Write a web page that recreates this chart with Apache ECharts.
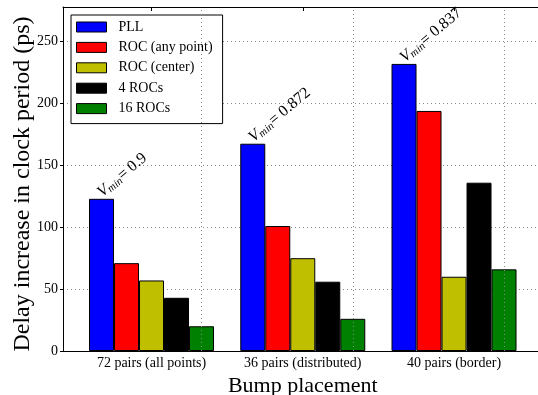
<!DOCTYPE html>
<html><head><meta charset="utf-8">
<script src="https://cdn.jsdelivr.net/npm/echarts@6/dist/echarts.min.js"></script>
<style>html,body{margin:0;padding:0;background:#fff}#c{width:538px;height:395px}</style>
</head><body><div id="c"></div>
<script>
const categories = ['72 pairs (all points)', '36 pairs (distributed)', '40 pairs (border)'];
const seriesNames = ['PLL', 'ROC (any point)', 'ROC (center)', '4 ROCs', '16 ROCs'];
const pll = [123, 167.5, 232];
const rocAny = [71, 101, 194];
const rocCenter = [57, 75, 60];
const roc4 = [43, 56, 136];
const roc16 = [20, 26, 66];
const vmin = ['0.9', '0.872', '0.837'];
const yTicks = [0, 50, 100, 150, 200, 250];

const colors = ['#0000ff', '#ff0000', '#bfbf00', '#000000', '#008000'];
const values = [pll, rocAny, rocCenter, roc4, roc16];
const FONT = '"Liberation Serif", "DejaVu Serif", serif';
const YMAX = 278;

const chart = echarts.init(document.getElementById('c'));
const series = values.map((v, i) => {
  const s = {
    name: seriesNames[i], type: 'bar', xAxisIndex: 1, yAxisIndex: 1,
    data: v, barWidth: 25, barGap: '0%',
    itemStyle: { color: colors[i], borderColor: '#000', borderWidth: 1 },
    emphasis: { disabled: true }, animation: false
  };
  if (i === 0) {
    s.label = {
      show: true, position: [16, 2], rotate: 40, align: 'left', verticalAlign: 'bottom',
      formatter: p => '{v|V}{s|min}{e|= ' + vmin[p.dataIndex] + '}',
      rich: {
        v: { fontFamily: FONT, fontStyle: 'italic', fontSize: 16, color: '#000' },
        s: { fontFamily: FONT, fontStyle: 'italic', fontSize: 11, color: '#000', padding: [6, 0, 0, 0] },
        e: { fontFamily: FONT, fontSize: 16, color: '#000' }
      }
    };
  }
  if (i === values.length - 1) {
    s.markLine = {
      silent: true, symbol: 'none', label: { show: false },
      lineStyle: { color: '#888', type: [1, 3], width: 1 },
      data: categories.map(c => ({ xAxis: c }))
    };
  }
  return s;
});

chart.setOption({
  animation: false,
  textStyle: { fontFamily: FONT },
  grid: [
    { left: 63, top: 7, right: -6, bottom: 44, show: false, outerBoundsMode: 'none', containLabel: false },
    { left: 75.9, top: 7, width: 453.75, bottom: 44, outerBoundsMode: 'none', containLabel: false }
  ],
  legend: {
    orient: 'vertical', left: 71, top: 15, data: seriesNames,
    icon: 'rect', itemWidth: 30, itemHeight: 10, itemGap: 6.4,
    padding: [5, 10, 8, 5],
    backgroundColor: '#fff', borderColor: '#000', borderWidth: 1, borderRadius: 0,
    itemStyle: { borderColor: '#000', borderWidth: 1 },
    textStyle: { fontFamily: FONT, fontSize: 14, color: '#000', padding: [0, 0, 0, 7] },
    selectedMode: false
  },
  xAxis: [
    { gridIndex: 0, type: 'value', min: 0, max: 1, position: 'bottom',
      axisLine: { show: true, onZero: false, lineStyle: { color: '#000' } },
      axisTick: { show: false }, axisLabel: { show: false }, splitLine: { show: false } },
    { gridIndex: 1, type: 'category', data: categories, position: 'bottom',
      axisLine: { show: false },
      axisTick: { show: true, alignWithLabel: true, inside: true, length: 4, lineStyle: { color: '#000' } },
      axisLabel: { fontFamily: FONT, fontSize: 14, color: '#000', margin: 5, interval: 0 },
      name: 'Bump placement', nameLocation: 'middle', nameGap: 21,
      nameTextStyle: { fontFamily: FONT, fontSize: 22, color: '#000' } },
    { gridIndex: 1, type: 'category', data: categories, position: 'top',
      axisLine: { show: false },
      axisTick: { show: true, alignWithLabel: true, inside: true, length: 4, lineStyle: { color: '#000' } },
      axisLabel: { show: false } },
    { gridIndex: 0, type: 'value', min: 0, max: 1, position: 'top',
      axisLine: { show: true, onZero: false, lineStyle: { color: '#000' } },
      axisTick: { show: false }, axisLabel: { show: false }, splitLine: { show: false } }
  ],
  yAxis: [
    { gridIndex: 0, type: 'value', min: 0, max: YMAX, interval: 50,
      axisLine: { show: true, lineStyle: { color: '#000' } },
      axisTick: { show: true, inside: false, length: 3, lineStyle: { color: '#000' } },
      axisLabel: { fontFamily: FONT, fontSize: 14, color: '#000', margin: 5, showMaxLabel: false,
        formatter: v => yTicks.includes(v) ? String(v) : '' },
      splitLine: { show: true, lineStyle: { color: '#888', type: [1, 3], width: 1 } },
      name: 'Delay increase in clock period (ps)', nameLocation: 'middle', nameGap: 28,
      nameMoveOverlap: false,
      nameTextStyle: { fontFamily: FONT, fontSize: 24, color: '#000', padding: [0, 10, 0, 0] } },
    { gridIndex: 1, type: 'value', min: 0, max: YMAX, show: false }
  ],
  series: series
});
</script></body></html>
